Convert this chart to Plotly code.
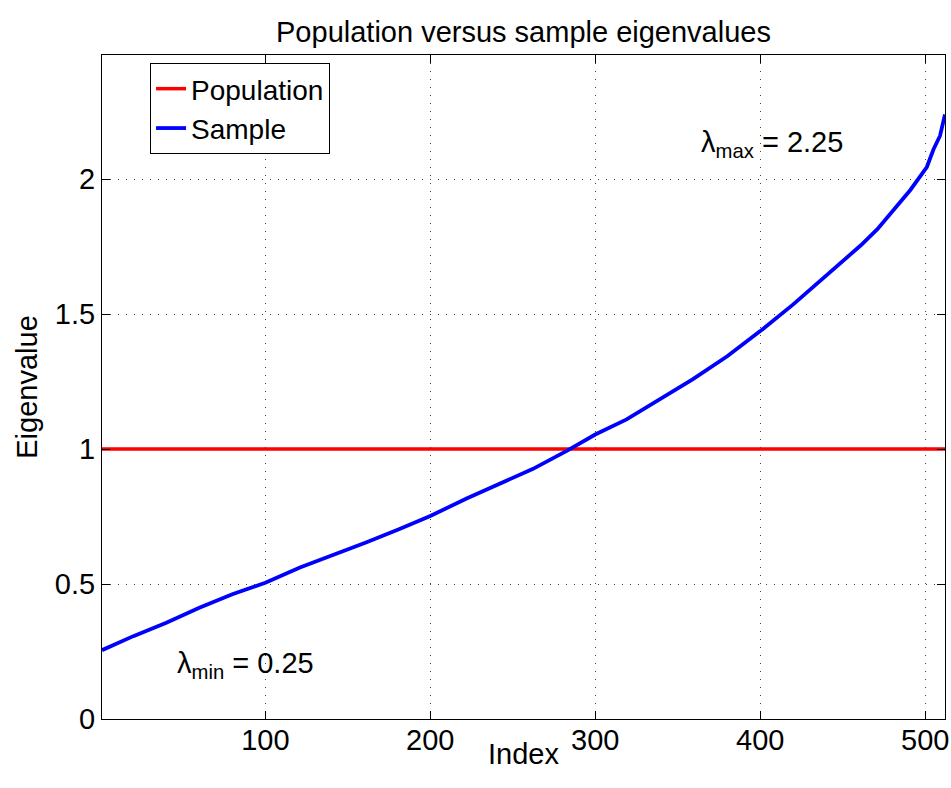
import plotly.graph_objects as go

# ---- data ----
sample_index = [1, 20, 40, 60, 80, 100, 121, 141, 161, 181, 200, 222, 242, 262, 283,
                300, 319, 339, 359, 380, 400, 420, 440, 450, 461, 471, 481, 491, 501, 505,
                509, 511, 512]
sample_values = [0.255, 0.307, 0.357, 0.412, 0.462, 0.505, 0.561, 0.607, 0.654, 0.703,
                 0.752, 0.817, 0.870, 0.926, 0.994, 1.054, 1.110, 1.184, 1.258, 1.344,
                 1.437, 1.536, 1.641, 1.695, 1.755, 1.815, 1.885, 1.960, 2.045, 2.110, 2.161,
                 2.225, 2.240]
population_index = [1, 512]
population_values = [1.0, 1.0]

x_tick_vals = [100, 200, 300, 400, 500]
y_tick_vals = [0, 0.5, 1, 1.5, 2]
y_tick_text = ["0", "0.5", "1", "1.5", "2"]

FONT = "Liberation Sans, Arial, Helvetica, sans-serif"
FS = 29

fig = go.Figure()
fig.add_trace(go.Scatter(x=population_index, y=population_values, mode="lines",
                         name="Population", line=dict(color="#ff0000", width=3.5)))
fig.add_trace(go.Scatter(x=sample_index, y=sample_values, mode="lines",
                         name="Sample", line=dict(color="#0000ff", width=3.8)))

axis_common = dict(
    showline=True, linecolor="black", linewidth=1, mirror="ticks",
    ticks="inside", ticklen=8, tickcolor="black", tickwidth=1,
    showgrid=True, gridcolor="#444444", gridwidth=1, griddash="1px,7px",
    zeroline=False, tickfont=dict(family=FONT, size=FS, color="black"),
)

fig.update_xaxes(range=[1, 512], tickvals=x_tick_vals, ticklabelstandoff=-5,
                 automargin=False, **axis_common)
fig.update_yaxes(range=[0, 2.46], tickvals=y_tick_vals, ticktext=y_tick_text,
                 title=dict(text="Eigenvalue", font=dict(family=FONT, size=FS, color="black"), standoff=8),
                 automargin=False, **axis_common)

# x-axis label placed like the reference (tight under the tick labels)
fig.add_annotation(x=0.5, y=-0.052, xref="paper", yref="paper", xanchor="center", yanchor="middle",
                   text="Index", showarrow=False,
                   font=dict(family=FONT, size=FS, color="black"))

fig.add_annotation(x=45, y=0.20, xref="x", yref="y", xanchor="left", yanchor="middle",
                   text="λ<sub>min</sub> = 0.25", showarrow=False,
                   font=dict(family=FONT, size=FS, color="black"))
fig.add_annotation(x=363, y=2.13, xref="x", yref="y", xanchor="left", yanchor="middle",
                   text="λ<sub>max</sub> = 2.25", showarrow=False,
                   font=dict(family=FONT, size=FS, color="black"))

fig.update_layout(
    width=951, height=788,
    margin=dict(l=102, r=6, t=55, b=69),
    paper_bgcolor="white", plot_bgcolor="white",
    title=dict(text="Population versus sample eigenvalues", x=0.5, xref="paper",
               xanchor="center", y=0.96, yanchor="middle",
               font=dict(family=FONT, size=FS, color="black")),
    legend=dict(x=0.057, y=0.988, xanchor="left", yanchor="top",
                bgcolor="white", bordercolor="black", borderwidth=1,
                font=dict(family=FONT, size=28, color="black")),
    showlegend=True,
)

# remove the default page margin so the 951x788 figure fills the window exactly
fig.write_html("out.html", config={"displayModeBar": False},
               post_script="document.body.style.margin='0';document.body.style.overflow='hidden';")
